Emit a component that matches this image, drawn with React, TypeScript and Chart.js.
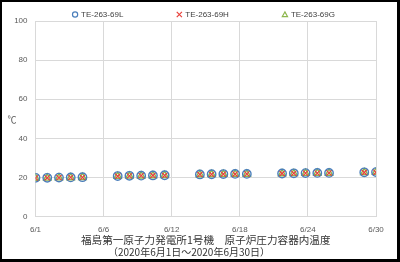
import React, { useEffect, useRef } from "react";
import { Chart, registerables } from "chart.js";

Chart.register(...registerables);

// Day of month (June 2020) for each measurement
const days = [1, 2, 3, 4, 5, 8, 9, 10, 11, 12, 15, 16, 17, 18, 19, 22, 23, 24, 25, 26, 29, 30];
const seriesL = [19.8, 19.8, 19.9, 20.0, 20.1, 20.7, 20.8, 20.9, 21.0, 21.1, 21.5, 21.6, 21.7, 21.8, 21.8, 22.0, 22.1, 22.2, 22.3, 22.3, 22.6, 22.7];
const seriesH = [19.7, 19.8, 19.9, 20.0, 20.0, 20.6, 20.8, 20.9, 21.0, 21.0, 21.5, 21.6, 21.7, 21.7, 21.8, 22.0, 22.1, 22.2, 22.2, 22.3, 22.5, 22.6];
const seriesG = [19.6, 19.7, 19.8, 19.9, 20.0, 20.6, 20.7, 20.8, 20.9, 21.0, 21.4, 21.5, 21.6, 21.7, 21.7, 21.9, 22.0, 22.1, 22.2, 22.2, 22.5, 22.6];
const seriesNames = ["TE-263-69L", "TE-263-69H", "TE-263-69G"];
const seriesColors = ["#4A7EBB", "#E8413B", "#8DB64C"];
const seriesStyles = ["circle", "crossRot", "triangle"];
const xTickLabels = ["6/1", "6/6", "6/12", "6/18", "6/24", "6/30"];
const xMin = 1;
const xMax = 30;
const yTicks = [0, 20, 40, 60, 80, 100];
const yUnit = "℃";
const titleLine1 = "福島第一原子力発電所1号機　原子炉圧力容器内温度";
const titleLine2 = "（2020年6月1日～2020年6月30日）";

function drawMarker(ctx: CanvasRenderingContext2D, style: string, x: number, y: number, r: number) {
  ctx.beginPath();
  if (style === "circle") {
    ctx.arc(x, y, r, 0, Math.PI * 2);
  } else if (style === "crossRot") {
    ctx.moveTo(x - r, y - r);
    ctx.lineTo(x + r, y + r);
    ctx.moveTo(x + r, y - r);
    ctx.lineTo(x - r, y + r);
  } else {
    ctx.moveTo(x, y - r);
    ctx.lineTo(x + r, y + r * 0.8);
    ctx.lineTo(x - r, y + r * 0.8);
    ctx.closePath();
  }
  ctx.stroke();
}

const extrasPlugin = {
  id: "extras",
  afterDraw(chart: any) {
    const { ctx, chartArea, width } = chart;
    ctx.save();
    // unit label
    ctx.font = "9px 'Noto Sans CJK JP'";
    ctx.fillStyle = "#595959";
    ctx.textAlign = "center";
    ctx.textBaseline = "middle";
    ctx.fillText(yUnit, 10, (chartArea.top + chartArea.bottom) / 2 + 1);
    // legend
    ctx.font = "8px 'Liberation Sans'";
    const markerW = 6;
    const markerGap = 3;
    const itemGap = 53;
    const widths = seriesNames.map((n) => markerW + markerGap + ctx.measureText(n).width);
    const total = widths.reduce((a, b) => a + b, 0) + itemGap * (widths.length - 1);
    let x = width / 2 + 4 - total / 2;
    const y = 12.5;
    seriesNames.forEach((name, i) => {
      ctx.strokeStyle = seriesColors[i];
      ctx.lineWidth = 1.2;
      drawMarker(ctx, seriesStyles[i], x + markerW / 2, y, 2.6);
      ctx.fillStyle = "#404040";
      ctx.textAlign = "left";
      ctx.textBaseline = "middle";
      ctx.fillText(name, x + markerW + markerGap, y + 0.5);
      x += widths[i] + itemGap;
    });
    ctx.restore();
  },
};

export default function App() {
  const ref = useRef<HTMLCanvasElement>(null);
  useEffect(() => {
    document.body.style.margin = "0";
    const toPts = (vals: number[]) => vals.map((v, i) => ({ x: days[i], y: v }));
    const allSeries = [seriesL, seriesH, seriesG];
    const chart = new Chart(ref.current!, {
      type: "scatter",
      data: {
        datasets: allSeries.map((vals, i) => ({
          label: seriesNames[i],
          data: toPts(vals),
          pointStyle: seriesStyles[i] as any,
          pointRadius: 4.2,
          pointBorderWidth: i === 1 ? 1.2 : 1.4,
          pointBorderColor: seriesColors[i],
          pointBackgroundColor: "rgba(0,0,0,0)",
        })),
      },
      options: {
        responsive: false,
        animation: false,
        layout: { padding: { left: 0, right: 21, top: 19, bottom: 0 } },
        plugins: {
          tooltip: { enabled: false },
          legend: { display: false },
          title: {
            display: true,
            position: "bottom",
            text: titleLine2,
            color: "#333333",
            font: { family: "'Noto Sans CJK JP'", size: 10, weight: "normal" },
            padding: { top: 0, bottom: 1 },
          },
        },
        scales: {
          x: {
            type: "linear",
            min: xMin,
            max: xMax,
            afterBuildTicks: (axis: any) => {
              axis.ticks = xTickLabels.map((_, i) => ({
                value: xMin + (i * (xMax - xMin)) / (xTickLabels.length - 1),
              }));
            },
            ticks: {
              autoSkip: false,
              maxRotation: 0,
              padding: 8,
              color: "#595959",
              font: { family: "'Liberation Sans'", size: 8 },
              callback: (_v: any, i: number) => xTickLabels[i],
            },
            grid: { color: "#D9D9D9", drawTicks: false },
            border: { color: "#D9D9D9" },
            title: {
              display: true,
              text: titleLine1,
              color: "#333333",
              font: { family: "'Noto Sans CJK JP'", size: 10.6 },
              padding: { top: 1, bottom: 0 },
            },
            afterFit: (scale: any) => {
              scale.height = 29.5;
            },
          },
          y: {
            min: 0,
            max: 100,
            afterBuildTicks: (axis: any) => {
              axis.ticks = yTicks.map((v) => ({ value: v }));
            },
            ticks: {
              padding: 8,
              color: "#595959",
              font: { family: "'Liberation Sans'", size: 8 },
            },
            grid: { color: "#D9D9D9", drawTicks: false },
            border: { color: "#D9D9D9" },
            afterFit: (scale: any) => {
              scale.width = 33.5;
            },
          },
        },
      },
      plugins: [extrasPlugin],
    });
    return () => chart.destroy();
  }, []);

  return (
    <div
      style={{
        position: "absolute",
        left: 0,
        top: 0,
        width: 400,
        height: 262,
        boxSizing: "border-box",
        borderStyle: "solid",
        borderColor: "#000",
        borderWidth: "2px 3px 3px 2px",
        background: "#fff",
      }}
    >
      <canvas ref={ref} width={395} height={257} style={{ display: "block" }} />
    </div>
  );
}
